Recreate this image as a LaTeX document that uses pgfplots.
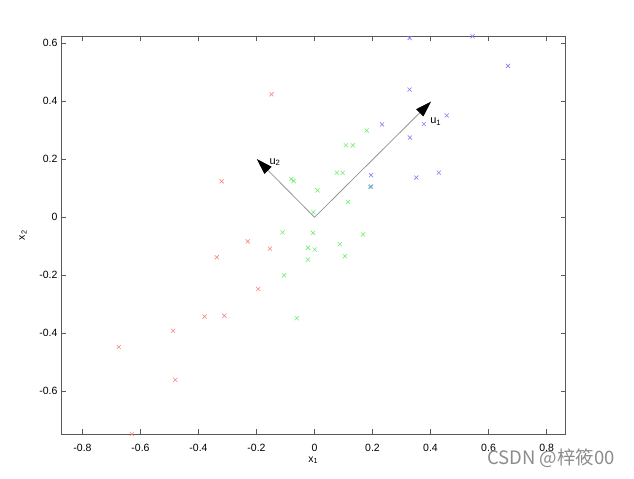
\documentclass[border=0pt]{standalone}
\usepackage{fontspec}
\setmainfont{Liberation Sans}
\newfontfamily\cjk{Noto Sans CJK SC}
\usepackage{pgfplots}
\pgfplotsset{compat=1.18}
\usetikzlibrary{arrows.meta}
\definecolor{ptred}{RGB}{255,128,128}
\definecolor{ptgreen}{RGB}{110,240,110}
\definecolor{ptblue}{RGB}{128,128,255}
\definecolor{arrgray}{RGB}{150,150,150}
\begin{document}
\begin{tikzpicture}
\useasboundingbox (-61pt,-44pt) rectangle (573pt,434.3pt);
\begin{axis}[
  scale only axis, width=504.7pt, height=398.3pt,
  xmin=-0.874, xmax=0.866, ymin=-0.748, ymax=0.625,
  xtick={-0.8,-0.6,-0.4,-0.2,0,0.2,0.4,0.6,0.8},
  ytick={-0.6,-0.4,-0.2,0,0.2,0.4,0.6},
  tick align=inside, major tick length=5pt,
  axis line style={draw=black!65, line width=0.7pt},
  tick style={draw=black!65, line width=0.7pt},
  /pgf/number format/assume math mode=true,
  ticklabel style={font=\fontsize{10.5}{12}\selectfont},
  xticklabel style={yshift=-6pt},
  xlabel={x\textsubscript{1}}, ylabel={x\textsubscript{2}},
  label style={font=\fontsize{10.5}{12}\selectfont},
  xlabel style={at={(rel axis cs:0.5,0)}, anchor=center, yshift=-26pt},
  ylabel style={at={([xshift=-38pt]rel axis cs:0,0.5)}, anchor=center},
  clip=false,
]
\addplot[only marks, mark=x, mark size=2.9pt, ptred, line width=0.6pt] coordinates {
(-0.230,-0.083) (-0.154,-0.108) (-0.337,-0.138) (-0.194,-0.247)
(-0.379,-0.342) (-0.311,-0.339) (-0.488,-0.391) (-0.675,-0.447)
(-0.480,-0.560) (-0.630,-0.747) (-0.148,0.424) (-0.320,0.124)
};
\addplot[only marks, mark=x, mark size=2.9pt, ptgreen, line width=0.6pt] coordinates {
(0.180,0.299) (0.108,0.248) (0.132,0.248) (0.077,0.154) (0.097,0.153)
(-0.080,0.132) (-0.072,0.125) (0.010,0.093) (0.116,0.053) (0.192,0.105)
(-0.004,0.018) (-0.110,-0.052) (-0.005,-0.054) (0.167,-0.059) (0.087,-0.093)
(-0.022,-0.105) (0.001,-0.111) (0.105,-0.134) (-0.023,-0.146) (-0.105,-0.200)
(-0.061,-0.348)
};
\addplot[only marks, mark=x, mark size=2.9pt, ptblue, line width=0.6pt] coordinates {
(0.328,0.618) (0.545,0.624) (0.667,0.522) (0.328,0.440) (0.456,0.351)
(0.377,0.321) (0.233,0.320) (0.329,0.275) (0.429,0.154) (0.351,0.137)
(0.195,0.145) (0.195,0.106)
};
\addplot[arrgray, line width=0.8pt, -{Triangle[black, length=16pt, width=10pt]}] coordinates {(0,0) (0.402,0.399)};
\addplot[arrgray, line width=0.8pt, -{Triangle[black, length=16pt, width=10pt]}] coordinates {(0,0) (-0.199,0.201)};
\node[font=\fontsize{11}{12}\selectfont] at (axis cs:0.418,0.33) {u\textsubscript{1}};
\node[font=\fontsize{11}{12}\selectfont] at (axis cs:-0.136,0.19) {u\textsubscript{2}};
\end{axis}
\node[text=black!45, font=\cjk\fontsize{18.5}{20}\selectfont] at (490pt,-24pt) {CSDN @梓筱00};
\end{tikzpicture}
\end{document}
